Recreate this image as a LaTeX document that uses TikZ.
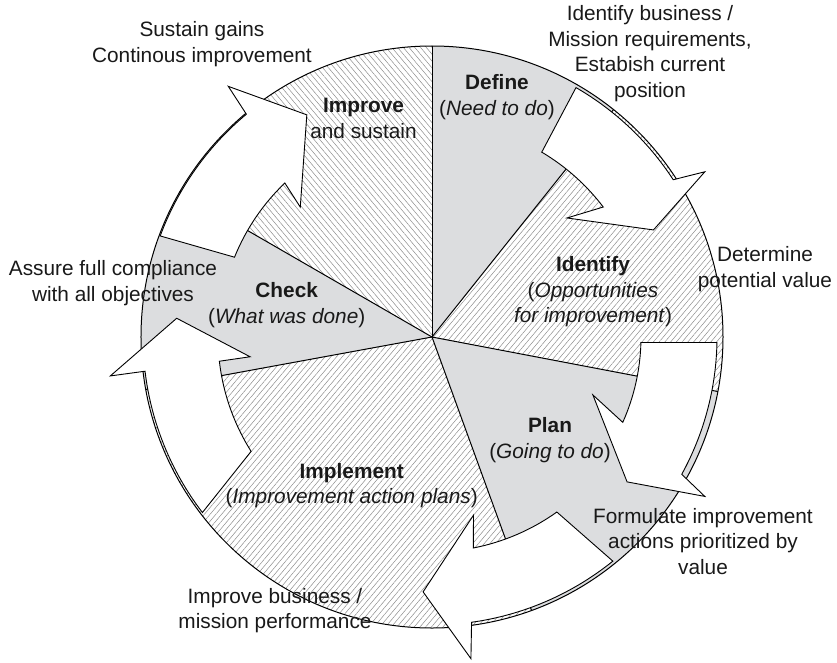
\documentclass[tikz,border=0pt]{standalone}
\usepackage{fontspec}
\setmainfont{Liberation Sans}
\usetikzlibrary{patterns.meta}
\definecolor{sectorgray}{HTML}{DCDDDF}
\definecolor{hatchgray}{HTML}{8C8C8C}

\begin{document}
\begin{tikzpicture}[x=1pt,y=1pt,line width=1pt,
  shaded/.style={fill=sectorgray},
  hatchleft/.style={pattern={Lines[angle=130,distance=4.4pt,line width=0.5pt]},pattern color=hatchgray},
  hatchright/.style={pattern={Lines[angle=50,distance=4.4pt,line width=0.5pt]},pattern color=hatchgray},
  cyclearrow/.style={draw,fill=white,line width=0.9pt,line join=miter},
  phrase/.style={font=\fontsize{20.8}{25.5}\selectfont,align=center,inner sep=0pt,text=black!90}]
  \useasboundingbox (-432,-325) rectangle (405,337);

  % sectors
  \fill[shaded] (0,0) -- (51.4:291) arc[start angle=51.4,end angle=90,radius=291] -- cycle;
  \fill[hatchleft] (0,0) -- (90:291) arc[start angle=90,end angle=150,radius=291] -- cycle;
  \fill[shaded] (0,0) -- (150:291) arc[start angle=150,end angle=190.4,radius=291] -- cycle;
  \fill[hatchright] (0,0) -- (190.4:291) arc[start angle=190.4,end angle=290,radius=291] -- cycle;
  \fill[shaded] (0,0) -- (-70:291) arc[start angle=-70,end angle=-10.8,radius=291] -- cycle;
  \fill[hatchright] (0,0) -- (-10.8:291) arc[start angle=-10.8,end angle=51.4,radius=291] -- cycle;
  \foreach \a in {90,51.4,-10.8,-70,190.4,150}
    \draw (0,0) -- (\a:291);
  \draw (0,0) circle[radius=291];

  % arrows round the circle
  \draw[cyclearrow] (60:288) arc[start angle=60,end angle=33.1,radius=288] -- (31.2:319) -- (25.8:246)
    -- (41.4:180) -- (37.2:215) arc[start angle=37.2,end angle=59.3,radius=215] -- cycle;
  \draw[cyclearrow] (-1.1:285) arc[start angle=-1.1,end angle=-28.8,radius=285] -- (-30.3:316) -- (-36.6:243)
    -- (-19.8:171) -- (-24.1:209) arc[start angle=-24.1,end angle=-1.5,radius=209] -- cycle;
  \draw[cyclearrow] (-51.1:288) arc[start angle=-51.1,end angle=-82.1,radius=288] -- (-83.1:324) -- (-92:255)
    -- (-76.9:183) -- (-78.9:215) arc[start angle=-78.9,end angle=-54.5,radius=215] -- cycle;
  \draw[cyclearrow] (217.4:289) arc[start angle=217.4,end angle=186.8,radius=289] -- (186.9:324) -- (175.8:256)
    -- (186.2:183) -- (186.5:214) arc[start angle=186.5,end angle=212.3,radius=214] -- cycle;
  \draw[cyclearrow] (159.6:290) arc[start angle=159.6,end angle=129.8,radius=290] -- (129.1:323) -- (119.4:255)
    -- (135.4:185) -- (133.7:213) arc[start angle=133.7,end angle=158,radius=213] -- cycle;

  % stages
  \node[phrase] (define) at (65,240) {\textbf{Define}\\(\textit{Need to do})};
  \node[phrase] (identify) at (161,45.3) {\textbf{Identify}\\(\textit{Opportunities}\\\textit{for improvement})};
  \node[phrase] (plan) at (118,-103) {\textbf{Plan}\\(\textit{Going to do})};
  \node[phrase] (implement) at (-80.3,-148.8) {\textbf{Implement}\\(\textit{Improvement action plans})};
  \node[phrase] (check) at (-145.3,32) {\textbf{Check}\\(\textit{What was done})};
  \node[phrase] (improve) at (-68.5,218.5) {\textbf{Improve}\\and sustain};

  % notes outside
  \node[phrase] (business) at (218,283.2) {Identify business /\\Mission requirements,\\Estabish current\\position};
  \node[phrase] (value) at (333,67.8) {Determine\\potential value};
  \node[phrase] (formulate) at (271,-204.5) {Formulate improvement\\actions prioritized by\\value};
  \node[phrase] (performance) at (-157,-273.8) {Improve business /\\mission performance};
  \node[phrase] (assure) at (-319,53.7) {Assure full compliance\\with all objectives};
  \node[phrase] (sustain) at (-230,292.8) {Sustain gains\\Continous improvement};
\end{tikzpicture}
\end{document}
